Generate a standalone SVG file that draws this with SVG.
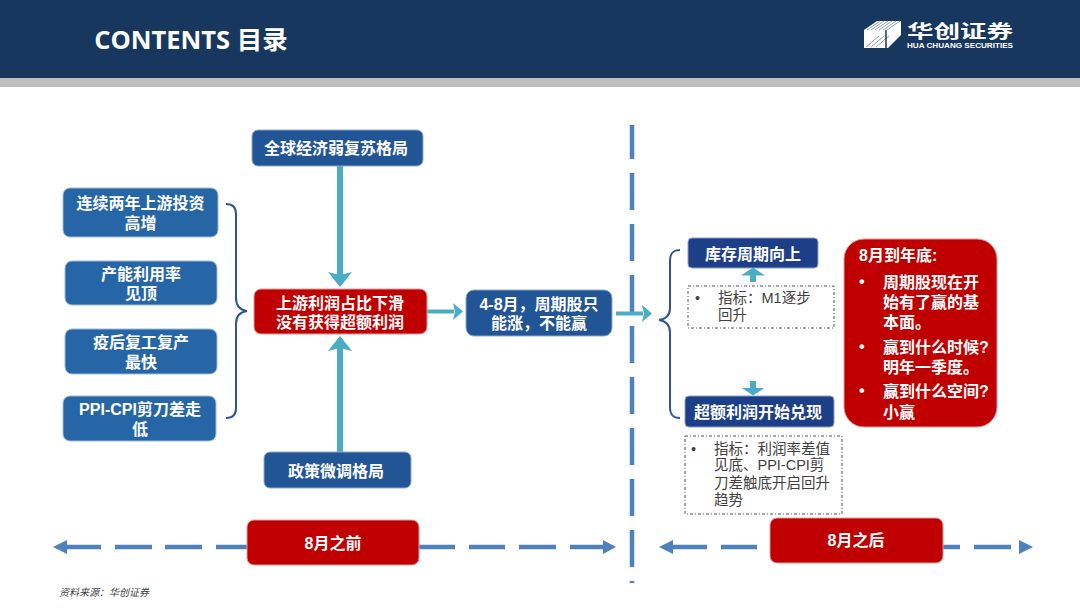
<svg xmlns="http://www.w3.org/2000/svg" width="1080" height="608" viewBox="0 0 1080 608">
<style>
text{font-family:"Liberation Sans","Noto Sans CJK SC",sans-serif;text-anchor:middle}
.w{fill:#fff;font-weight:700;font-size:16px}
.blue{fill:#225596;stroke:#8eaacb;stroke-width:1}
.mid{fill:#2666A6;stroke:#9dbbd8;stroke-width:1}
.navy{fill:#1D3F87;stroke:#8e9fc6;stroke-width:1}
.red{fill:#C00000;stroke:#e49a9a;stroke-width:1}
.teal{stroke:#4BACC6;fill:none}
.dash{stroke:#4F81BD;stroke-width:4.5;fill:none}
.brace{stroke:#2F5597;stroke-width:2;fill:none}
.note{fill:#fff;stroke:#555;stroke-width:1;stroke-dasharray:3 2 1 2}
.n{fill:#404040;font-size:14.5px;text-anchor:start}
.l{fill:#fff;font-weight:700;font-size:16px;text-anchor:start}
.hd{fill:#4F81BD}
</style>
<defs>
<marker id="a" markerUnits="userSpaceOnUse" markerWidth="18" markerHeight="26" refX="3" refY="13" orient="auto"><path d="M0 1L15 13L0 25L3 13Z" fill="#4BACC6"/></marker>
<marker id="s" markerUnits="userSpaceOnUse" markerWidth="12" markerHeight="18" refX="1" refY="9" orient="auto"><path d="M0 0.5L10 9L0 17.5L2 9Z" fill="#4BACC6"/></marker>
<marker id="t" markerUnits="userSpaceOnUse" markerWidth="9" markerHeight="26" refX="0.5" refY="13" orient="auto"><path d="M0 1L8 13L0 25Z" fill="#4BACC6"/></marker>
</defs>
<g id="header">
<rect width="1080" height="78" fill="#17375E"/>
<rect y="78" width="1080" height="9" fill="#BFBFBF"/>
<text x="191" y="49" fill="#fff" font-size="25.5" font-weight="700" style="font-family:'Open Sans','Noto Sans CJK SC',sans-serif">CONTENTS 目录</text>
</g>
<g id="logo">
<path d="M864 30L877 21H901V35L888 48H864Z" fill="#fff"/>
<path d="M867 30L880 21M871 30L884 21M875 30L888 21M879 30L892 21M883 30L896 21M887 30L900 21M866 47L879 36M871 47L884 36M876 47L889 36" stroke="#8fa0b8" stroke-width="1" fill="none"/>
<path d="M886 30V48" stroke="#17375E" stroke-width="1.5"/>
<text x="960" y="37.500" fill="#fff" font-size="18" font-weight="700" textLength="106" lengthAdjust="spacingAndGlyphs">华创证券</text>
<text x="960" y="47.500" fill="#fff" font-size="7" font-weight="700" textLength="106" lengthAdjust="spacingAndGlyphs">HUA CHUANG SECURITIES</text>
</g>
<g id="connectors">
<path class="dash" stroke-dasharray="37 14" stroke-dashoffset="3" d="M632 125V583"/>
<path class="dash" d="M67 547H101M115 547H152M165 547H202M216 547H247M419 547H455M469 547H505M519 547H556M570 547H604"/>
<path class="dash" d="M673 547H707M721 547H757M943 547H960M974 547H1011"/>
<path class="hd" d="M53 547L67 540V554Z"/>
<path class="hd" d="M616 547L603 540V554Z"/>
<path class="hd" d="M659 547L673 540V554Z"/>
<path class="hd" d="M1033 547L1019 540V554Z"/>
<path class="teal" stroke-width="6" d="M340 166V275" marker-end="url(#a)"/>
<path class="teal" stroke-width="6" d="M340 452V348" marker-end="url(#a)"/>
<path class="teal" stroke-width="4" d="M427 311.500H454" marker-end="url(#s)"/>
<path class="teal" stroke-width="4" d="M616 313.500H643" marker-end="url(#s)"/>
<path class="teal" stroke-width="6" d="M753 282V275" marker-end="url(#t)"/>
<path class="teal" stroke-width="6" d="M753 381V388" marker-end="url(#t)"/>
<path class="brace" d="M226 204C233 204 236 207 236 214V298C236 306 240 310 247 311C240 312 236 316 236 324V408C236 415 233 418 226 418"/>
<path class="brace" d="M680 250C673 250 670 253 670 261V308C670 316 666 319 659 320C666 321 670 325 670 333V407C670 415 673 418 680 418"/>
</g>
<g id="n1"><rect class="blue" x="252" y="130" width="171" height="36" rx="6"/><text class="w" x="336" y="154">全球经济弱复苏格局</text></g>
<g id="n2"><rect class="mid" x="63" y="188" width="155" height="49" rx="7"/><text class="w" x="140.500" y="209">连续两年上游投资</text><text class="w" x="140.500" y="229">高增</text></g>
<g id="n3"><rect class="mid" x="65" y="261" width="152" height="44" rx="7"/><text class="w" x="141" y="280">产能利用率</text><text class="w" x="141" y="299">见顶</text></g>
<g id="n4"><rect class="mid" x="65" y="329" width="152" height="45" rx="7"/><text class="w" x="141" y="348">疫后复工复产</text><text class="w" x="141" y="368">最快</text></g>
<g id="n5"><rect class="mid" x="63" y="396" width="153" height="45" rx="7"/><text class="w" x="140" y="415">PPI-CPI剪刀差走</text><text class="w" x="140" y="435">低</text></g>
<g id="n6"><rect class="red" x="254" y="289" width="173" height="45" rx="7"/><text class="w" x="340" y="309">上游利润占比下滑</text><text class="w" x="340" y="328">没有获得超额利润</text></g>
<g id="n7"><rect class="blue" x="466" y="290" width="146" height="46" rx="8"/><text class="w" x="539" y="310">4-8月，周期股只</text><text class="w" x="539" y="329">能涨，不能赢</text></g>
<g id="n8"><rect class="blue" x="264" y="452" width="147" height="36" rx="6"/><text class="w" x="336" y="477">政策微调格局</text></g>
<g id="n9"><rect class="red" x="247" y="520" width="172" height="45" rx="7"/><text class="w" x="333" y="549">8月之前</text></g>
<g id="n10"><rect class="red" x="770" y="518" width="173" height="45" rx="7"/><text class="w" x="856" y="546">8月之后</text></g>
<g id="n11"><rect class="navy" x="688" y="238" width="130" height="30" rx="4"/><text class="w" x="753" y="260">库存周期向上</text></g>
<g id="n12"><rect class="navy" x="685" y="396" width="149" height="31" rx="4"/><text class="w" x="758" y="418">超额利润开始兑现</text></g>
<g id="n13"><rect class="red" x="844" y="239" width="153" height="188" rx="20"/>
<text class="l" x="859" y="261">8月到年底:</text>
<text class="l" x="859" y="287">•</text><text class="l" x="883" y="288">周期股现在开</text><text class="l" x="883" y="308">始有了赢的基</text><text class="l" x="883" y="328">本面。</text>
<text class="l" x="859" y="352">•</text><text class="l" x="883" y="353">赢到什么时候?</text><text class="l" x="883" y="373">明年一季度。</text>
<text class="l" x="859" y="396">•</text><text class="l" x="883" y="397">赢到什么空间?</text><text class="l" x="883" y="418">小赢</text></g>
<g id="n14"><rect class="note" x="688" y="286" width="146" height="42"/><text class="n" x="695" y="303">•</text><text class="n" x="718" y="303">指标：M1逐步</text><text class="n" x="718" y="320">回升</text></g>
<g id="n15"><rect class="note" x="685" y="436" width="157" height="78"/><text class="n" x="691" y="454">•</text><text class="n" x="714" y="454">指标：利润率差值</text><text class="n" x="714" y="470">见底、PPI-CPI剪</text><text class="n" x="714" y="488">刀差触底开启回升</text><text class="n" x="714" y="505">趋势</text></g>
<text x="104" y="596" fill="#444" font-size="10" font-style="italic">资料来源：华创证券</text>
</svg>
